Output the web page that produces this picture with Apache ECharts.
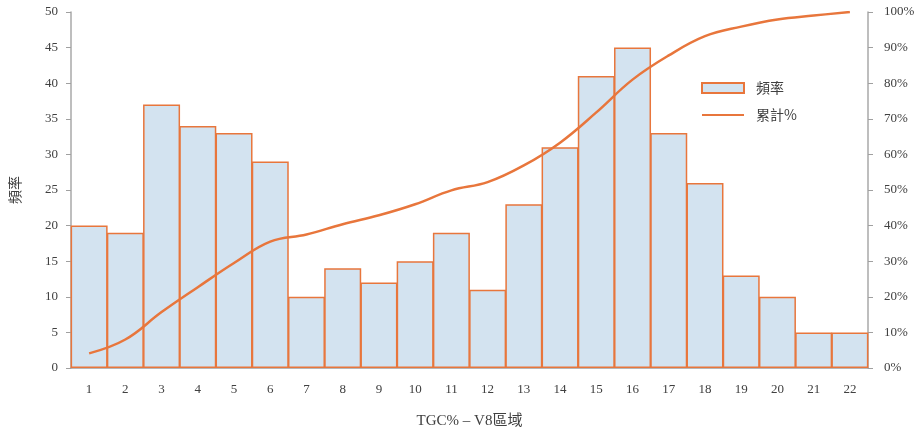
<!DOCTYPE html>
<html>
<head>
<meta charset="utf-8">
<script src="https://cdn.jsdelivr.net/npm/echarts@6/dist/echarts.min.js"></script>
<style>html,body{margin:0;padding:0;background:#fff}#c{width:914px;height:432px}</style>
</head>
<body>
<div id="c"></div>
<script>
var categories = ['1','2','3','4','5','6','7','8','9','10','11','12','13','14','15','16','17','18','19','20','21','22'];
var frequency = [20,19,37,34,33,29,10,14,12,15,19,11,23,31,41,45,33,26,13,10,5,5];
var cumulative = [4.1,8.0,15.7,22.7,29.5,35.5,37.5,40.4,42.9,46.0,49.9,52.2,56.9,63.3,71.8,81.0,87.8,93.2,95.9,97.9,99.0,100];
var leftTicks = {min:0, max:50, interval:5};
var rightTicks = {min:0, max:100, interval:10};

var serif = '"Liberation Serif", "Noto Sans CJK TC", serif';
var labelStyle = {color:'#404040', fontFamily: serif, fontSize: 13};
var chart = echarts.init(document.getElementById('c'));
chart.setOption({
  animation:false,
  grid:{left:71, right:46, top:12, bottom:64, outerBoundsMode:'none', containLabel:false},
  legend:{
    orient:'vertical', left:696, top:76, itemWidth:42, itemHeight:10, itemGap:13,
    textStyle:{color:'#404040', fontFamily:'"Noto Sans CJK TC", serif', fontSize:14, padding:[0,0,0,7]},
    data:[{name:'頻率', icon:'rect'},{name:'累計%', itemStyle:{opacity:0}}]
  },
  xAxis:{
    type:'category', data:categories, boundaryGap:true,
    name:'TGC% – V8區域', nameLocation:'middle', nameGap:46,
    nameTextStyle:{color:'#404040', fontFamily:serif, fontSize:15},
    axisLine:{lineStyle:{color:'#a0a0a0', width:1.5}},
    axisTick:{alignWithLabel:false, length:6, lineStyle:{color:'#a0a0a0'}},
    axisLabel:Object.assign({margin:15}, labelStyle)
  },
  yAxis:[{
    type:'value', min:leftTicks.min, max:leftTicks.max, interval:leftTicks.interval,
    name:'頻率', nameLocation:'middle', nameGap:49, nameRotate:90,
    nameTextStyle:{color:'#404040', fontFamily:'"Noto Sans CJK TC", serif', fontSize:14},
    axisLine:{show:true, lineStyle:{color:'#a8a8a8', width:1.5}},
    axisTick:{show:true, length:5, lineStyle:{color:'#a0a0a0'}},
    splitLine:{show:false},
    axisLabel:Object.assign({margin:13}, labelStyle)
  },{
    type:'value', min:rightTicks.min, max:rightTicks.max, interval:rightTicks.interval,
    axisLine:{show:true, lineStyle:{color:'#a8a8a8', width:1.5}},
    axisTick:{show:true, length:5, lineStyle:{color:'#a0a0a0'}},
    splitLine:{show:false},
    axisLabel:Object.assign({margin:16, formatter:'{value}%'}, labelStyle)
  }],
  series:[{
    name:'頻率', type:'bar', data:frequency, barWidth:37,
    itemStyle:{color:'#d3e3f0', borderColor:'#e8763c', borderWidth:1.5}
  },{
    name:'累計%', type:'line', yAxisIndex:1, data:cumulative, smooth:0.4,
    symbol:'none', lineStyle:{color:'#e8763c', width:2.5}, itemStyle:{color:'#e8763c'}
  }]
});
</script>
</body>
</html>
